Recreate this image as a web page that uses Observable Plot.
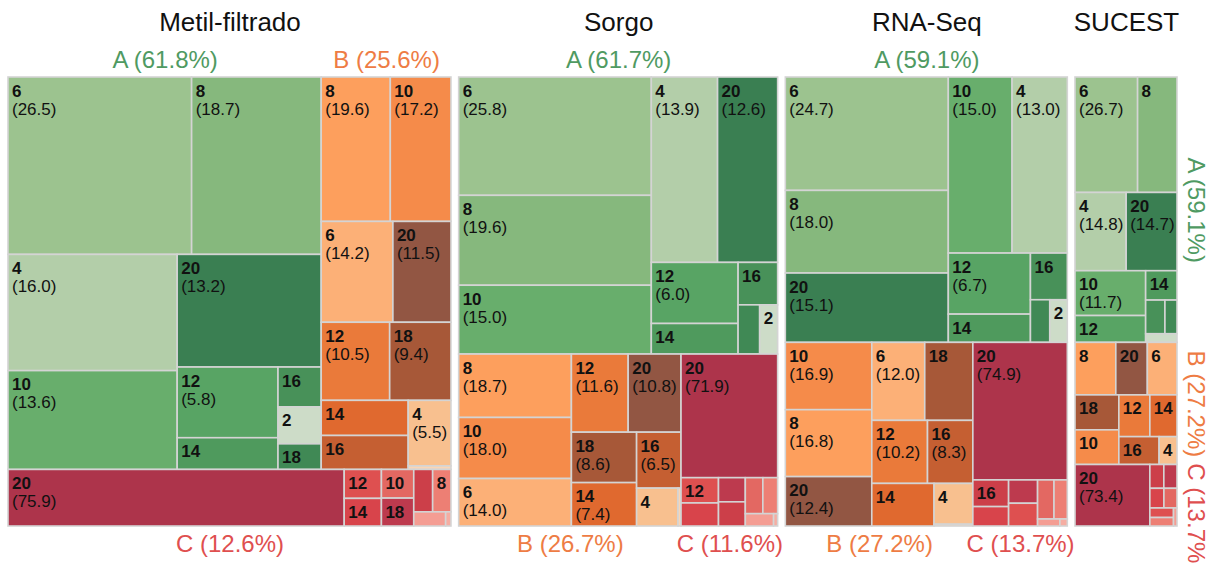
<!DOCTYPE html>
<html>
<head>
<meta charset="utf-8">
<script src="https://cdn.jsdelivr.net/npm/d3@7"></script>
<script src="https://cdn.jsdelivr.net/npm/@observablehq/plot@0.6"></script>
<style>
  html, body { margin: 0; padding: 0; background: #fff; }
  #chart svg { display: block; }
</style>
</head>
<body>
<div id="chart"></div>
<script>
// Datasets, drawn left to right; relative totals set each panel's width
const datasetNames = ["Metil-filtrado", "Sorgo", "RNA-Seq", "SUCEST"];
const datasetTotals = [443, 319, 282, 102];
const groupNames = ["A", "B", "C"];

// Share (%) of each group within a dataset
const metilGroups = [61.8, 25.6, 12.6];
const sorgoGroups = [61.7, 26.7, 11.6];
const rnaGroups = [59.1, 27.2, 13.7];
const sucestGroups = [59.1, 27.2, 13.7];

// [category, share (%) within its group]
const metilA = [[6, 26.5], [8, 18.7], [4, 16.0], [10, 13.6], [20, 13.2], [12, 5.8], [14, 2.6], [16, 1.4], [2, 1.3], [18, 0.9]];
const metilB = [[8, 19.6], [10, 17.2], [6, 14.2], [20, 11.5], [12, 10.5], [18, 9.4], [14, 6.0], [16, 5.8], [4, 5.5], [2, 0.3]];
const metilC = [[20, 75.9], [12, 4.3], [14, 4.1], [10, 3.7], [18, 3.6], [16, 3.2], [8, 3.1], [6, 1.8], [4, 0.3]];
const sorgoA = [[6, 25.8], [8, 19.6], [10, 15.0], [4, 13.9], [20, 12.6], [12, 6.0], [14, 3.0], [16, 1.9], [18, 1.2], [2, 1.0]];
const sorgoB = [[8, 18.7], [10, 18.0], [6, 14.0], [12, 11.6], [20, 10.8], [18, 8.6], [14, 7.4], [16, 6.5], [4, 4.1], [2, 0.3]];
const sorgoC = [[20, 71.9], [12, 5.7], [14, 5.2], [18, 3.9], [16, 3.9], [10, 3.8], [8, 3.2], [6, 2.1], [4, 0.3]];
const rnaA = [[6, 24.7], [8, 18.0], [20, 15.1], [10, 15.0], [4, 13.0], [12, 6.7], [14, 3.1], [16, 2.3], [18, 1.1], [2, 1.0]];
const rnaB = [[10, 16.9], [8, 16.8], [20, 12.4], [6, 12.0], [18, 10.9], [12, 10.2], [16, 8.3], [14, 7.7], [4, 4.6], [2, 0.2]];
const rnaC = [[20, 74.9], [16, 5.5], [14, 4.0], [18, 3.9], [12, 3.8], [10, 3.7], [8, 3.0], [6, 0.9], [4, 0.3]];
const sucestA = [[6, 26.7], [8, 16.8], [4, 14.8], [20, 14.7], [10, 11.7], [12, 7.0], [14, 3.4], [16, 2.4], [18, 1.5], [2, 1.0]];
const sucestB = [[8, 17.2], [20, 13.3], [6, 12.5], [18, 12.3], [10, 12.2], [12, 10.4], [14, 9.1], [16, 9.0], [4, 4.0]];
const sucestC = [[20, 73.4], [16, 5.3], [18, 5.0], [14, 4.4], [10, 4.1], [12, 3.6], [8, 3.2], [6, 1.0]];

const groupShares = [metilGroups, sorgoGroups, rnaGroups, sucestGroups];
const groupCells = [
  [metilA, metilB, metilC],
  [sorgoA, sorgoB, sorgoC],
  [rnaA, rnaB, rnaC],
  [sucestA, sucestB, sucestC]
];

// Colours: one ramp per group, darker for higher categories
const palettes = {
  A: {2: "#cddcc8", 4: "#b3cea9", 6: "#9cc38f", 8: "#86b87d", 10: "#68ae6c", 12: "#58a464", 14: "#4f9a5d", 16: "#489159", 18: "#408955", 20: "#3a7f52"},
  B: {2: "#fad5b5", 4: "#f8c08f", 6: "#fcb077", 8: "#fd9f5d", 10: "#f58b4a", 12: "#ea7a3a", 14: "#e0692f", 16: "#c55f32", 18: "#a75838", 20: "#925643"},
  C: {2: "#f7c3b9", 4: "#f5ada2", 6: "#f49d93", 8: "#ed7f74", 10: "#e36862", 12: "#de5050", 14: "#d8444b", 16: "#cc3f49", 18: "#bd3a4e", 20: "#ad344b"}
};
const labelColors = {A: "#4f9a62", B: "#ee7c44", C: "#df4f4f"};

(function draw() {
  // Page geometry
  const W = 1211, H = 563;
  const areaLeft = 8, areaRight = 1177, areaTop = 77, areaBottom = 526, gap = 7.7;
  const font = "'Liberation Sans', Arial, Helvetica, sans-serif";
  const cellFont = 17, captionFont = 24, titleFont = 26;

  const avail = areaRight - areaLeft - gap * (datasetNames.length - 1);
  const totalAll = d3.sum(datasetTotals);

  const panels = [];
  const cells = [];
  const groupBoxes = [];
  let cursor = areaLeft;
  datasetNames.forEach((name, i) => {
    const w = avail * datasetTotals[i] / totalAll;
    const panel = {name, x0: cursor, x1: cursor + w};
    panels.push(panel);
    cursor += w + gap;

    const tree = {
      children: groupNames.map((g, j) => {
        const list = groupCells[i][j];
        const sum = d3.sum(list, d => d[1]);
        return {
          group: g,
          share: groupShares[i][j],
          children: list.map(([cat, v]) => ({group: g, cat, v, size: groupShares[i][j] * v / sum}))
        };
      })
    };
    const root = d3.hierarchy(tree)
      .sum(d => d.children ? 0 : d.size)
      .sort((a, b) => b.value - a.value);
    d3.treemap().size([w, areaBottom - areaTop])(root);

    for (const leaf of root.leaves()) {
      cells.push({
        ...leaf.data,
        x0: panel.x0 + leaf.x0, x1: panel.x0 + leaf.x1,
        y0: areaTop + leaf.y0, y1: areaTop + leaf.y1
      });
    }
    for (const g of root.children) {
      groupBoxes.push({
        panel, group: g.data.group, share: g.data.share,
        x0: panel.x0 + g.x0, x1: panel.x0 + g.x1,
        y0: areaTop + g.y0, y1: areaTop + g.y1
      });
    }
  });

  // Rough text widths (Arial metrics) to decide which labels fit
  const glyph = {"(": 0.333, ")": 0.333, ".": 0.278, " ": 0.278, "%": 0.889, "A": 0.667, "B": 0.667, "C": 0.722};
  const textW = (s, size) => d3.sum([...s], c => glyph[c] ?? 0.556) * size;
  const fmtValue = d => `(${d.v.toFixed(1)})`;

  const numberCells = cells.filter(d => (d.y1 - d.y0) >= 24 && (d.x1 - d.x0) >= textW(String(d.cat), cellFont) + 8);
  const valueCells = numberCells.filter(d => (d.y1 - d.y0) >= 43 && (d.x1 - d.x0) >= textW(fmtValue(d), cellFont) + 5);

  // Group captions: above, below, or rotated at the right for narrow panels
  const captions = [];
  let prevEnd = -Infinity, prevPanel = null;
  for (const g of groupBoxes) {
    const text = `${g.group} (${g.share.toFixed(1)}%)`;
    const narrow = (g.panel.x1 - g.panel.x0) < 150;
    if (narrow) {
      if (prevPanel !== g.panel) prevEnd = -Infinity;
      prevPanel = g.panel;
      const len = textW(text, captionFont);
      let start = (g.y0 + g.y1) / 2 - len / 2;
      if (start < prevEnd + 6) start = prevEnd + 6;
      prevEnd = start + len;
      captions.push({text, group: g.group, x: g.panel.x1 + 18, y: start + len / 2, rotate: 90});
    } else if (Math.abs(g.y0 - areaTop) < 0.5) {
      captions.push({text, group: g.group, x: (g.x0 + g.x1) / 2, y: 67, rotate: 0});
    } else {
      captions.push({text, group: g.group, x: (g.x0 + g.x1) / 2, y: 551, rotate: 0});
    }
  }

  const chart = Plot.plot({
    width: W,
    height: H,
    margin: 0,
    x: {domain: [0, W], range: [0, W], axis: null},
    y: {domain: [0, H], range: [0, H], axis: null},
    style: {fontFamily: font, background: "#fff"},
    marks: [
      Plot.rect(cells, {
        x1: "x0", x2: "x1", y1: "y0", y2: "y1",
        fill: d => palettes[d.group][d.cat],
        stroke: "#d4d4d4",
        strokeWidth: 1.6
      }),
      Plot.text(numberCells, {
        x: d => d.x0 + 3.5, y: d => d.y0 + 19,
        text: d => String(d.cat),
        textAnchor: "start", lineAnchor: "bottom",
        fontSize: cellFont, fontWeight: "bold", fill: "#111"
      }),
      Plot.text(valueCells, {
        x: d => d.x0 + 3.5, y: d => d.y0 + 37,
        text: fmtValue,
        textAnchor: "start", lineAnchor: "bottom",
        fontSize: cellFont, fill: "#111"
      }),
      Plot.text(panels, {
        x: d => (d.x0 + d.x1) / 2, y: 30,
        text: "name",
        textAnchor: "middle", lineAnchor: "bottom",
        fontSize: titleFont, fill: "#111"
      }),
      Plot.text(captions.filter(d => d.rotate === 0), {
        x: "x", y: "y", text: "text",
        textAnchor: "middle", lineAnchor: "bottom",
        fontSize: captionFont, fill: d => labelColors[d.group]
      }),
      Plot.text(captions.filter(d => d.rotate !== 0), {
        x: "x", y: "y", text: "text", rotate: 90,
        textAnchor: "middle", lineAnchor: "middle",
        fontSize: captionFont, fill: d => labelColors[d.group]
      })
    ]
  });

  document.getElementById("chart").appendChild(chart);
})();
</script>
</body>
</html>
